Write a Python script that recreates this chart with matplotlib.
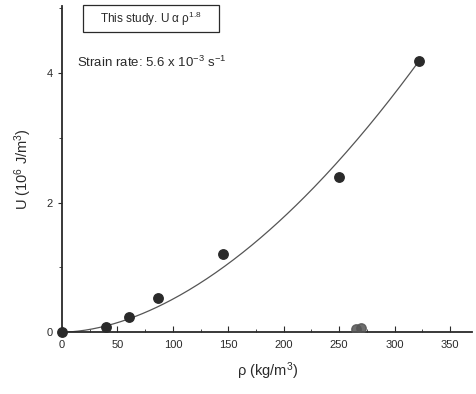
import numpy as np
import matplotlib as mpl
mpl.use('Agg')
import matplotlib.pyplot as plt
from matplotlib.patches import Rectangle
from matplotlib.ticker import MultipleLocator

plt.rcParams['font.family'] = ['Liberation Sans', 'DejaVu Sans']
plt.rcParams['mathtext.fontset'] = 'custom'
plt.rcParams['mathtext.rm'] = 'Liberation Sans'
plt.rcParams['mathtext.it'] = 'Liberation Sans'
plt.rcParams['mathtext.default'] = 'rm'

# Measured points (density kg/m3, energy 10^6 J/m3)
rho = [0, 40, 60, 87, 145, 250, 322]
U = [0.0, 0.08, 0.24, 0.53, 1.20, 2.40, 4.19]

# faint points near the axis
rho_faint = [265, 270]
U_faint = [0.05, 0.07]

# power-law fit U = a * rho^n
fit_n = 1.8
fit_ref_rho = 314
fit_ref_U = 4.0
fit_end = 321

ink = '#2a2a2a'
W, H = 477, 394

fig = plt.figure(figsize=(4.77, 3.94), dpi=100)
ax = fig.add_axes([0.130, 0.157, 0.860, 0.827])

xs = np.linspace(0, fit_end, 200)
ax.plot(xs, fit_ref_U * (xs / fit_ref_rho) ** fit_n, color='#555555', lw=0.9)

ax.plot(rho, U, 'o', color=ink, ms=6.8, clip_on=False, zorder=3)
ax.plot(rho_faint, U_faint, 'o', color='#555555', ms=6.8, alpha=0.85, zorder=3)

ax.set_xlim(0, 370)
ax.set_ylim(0, 5.03)
ax.xaxis.set_major_locator(MultipleLocator(50))
ax.xaxis.set_minor_locator(MultipleLocator(25))
ax.yaxis.set_major_locator(MultipleLocator(2))
ax.yaxis.set_minor_locator(MultipleLocator(1))

for s in ['top', 'right']:
    ax.spines[s].set_visible(False)
for s in ['left', 'bottom']:
    ax.spines[s].set_color(ink)
    ax.spines[s].set_linewidth(1.3)

ax.tick_params(axis='x', which='both', direction='in', colors=ink, labelsize=8)
ax.tick_params(axis='x', which='major', length=4, pad=6)
ax.tick_params(axis='x', which='minor', length=2)
ax.tick_params(axis='y', which='both', direction='out', colors=ink, labelsize=8)
ax.tick_params(axis='y', which='major', length=3)
ax.tick_params(axis='y', which='minor', length=2)

ax.set_xlabel(r'ρ (kg/m$^3$)', fontsize=10.5, color=ink, labelpad=7)
ax.set_ylabel(r'U (10$^6$ J/m$^3$)', fontsize=10.5, color=ink, labelpad=9)

# legend-like box in the top left
fig.patches.append(Rectangle((83 / W, 1 - 32 / H), 136 / W, 27 / H,
                             transform=fig.transFigure, fc='white', ec=ink,
                             lw=0.9, zorder=5))
fig.text(151 / W, 1 - 18.5 / H, r'This study. U α ρ$^{1.8}$', fontsize=8.5,
         color=ink, ha='center', va='center', zorder=6)
fig.text(77 / W, 1 - 62 / H, r'Strain rate: 5.6 x 10$^{-3}$ s$^{-1}$',
         fontsize=9.5, color=ink, ha='left', va='center')

fig.savefig('out.png', dpi=100)
